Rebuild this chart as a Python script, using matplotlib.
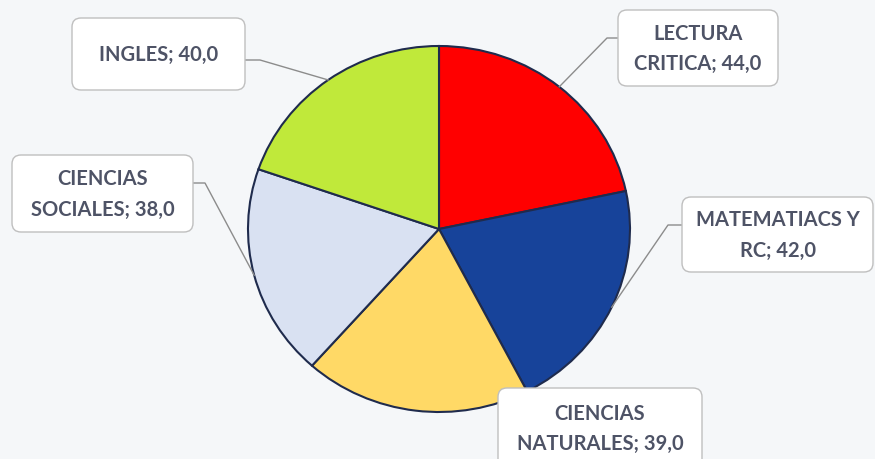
import numpy as np
import matplotlib
matplotlib.use("Agg")
import matplotlib.pyplot as plt
from matplotlib.patches import FancyBboxPatch

labels = ["LECTURA\nCRITICA; 44,0", "MATEMATIACS Y\nRC; 42,0", "CIENCIAS\nNATURALES; 39,0",
          "CIENCIAS\nSOCIALES; 38,0", "INGLES; 40,0"]
values = [44.0, 42.0, 39.0, 38.0, 40.0]
colors = ["#FF0000", "#17439A", "#FFD966", "#D9E1F2", "#C0E93A"]

W, H = 875, 459
cx, cy, rx, ry = 439, 229, 191, 183

fig = plt.figure(figsize=(W / 100, H / 100), dpi=100)
fig.patch.set_facecolor("#F5F7F9")

# pie axes: unit radius maps to rx, ry pixels
pax = fig.add_axes([0, 0, 1, 1])
pax.pie(values, colors=colors, startangle=90, counterclock=False,
        wedgeprops=dict(edgecolor="#1F2B4D", linewidth=1.5))
pax.set_aspect("auto")
pax.set_xlim(-cx / rx, (W - cx) / rx)
pax.set_ylim(-(H - cy) / ry, cy / ry)
pax.axis("off")

# overlay axes in pixel coords
ax = fig.add_axes([0, 0, 1, 1])
ax.set_xlim(0, W)
ax.set_ylim(H, 0)
ax.axis("off")
ax.patch.set_alpha(0)

total = sum(values)
angles = []
a = 90.0
for v in values:
    span = v / total * 360
    angles.append(a - span / 2)
    a -= span
edge_pts = [(cx + rx * np.cos(np.radians(t)), cy - ry * np.sin(np.radians(t))) for t in angles]

boxes = [(618, 10, 778, 86), (682, 197, 873, 272), (498, 388, 702, 470),
         (12, 155, 193, 232), (72, 18, 245, 90)]
elbows = [[(607, 38), (618, 38)], [(668, 225), (682, 225)], None,
          [(205, 183), (193, 183)], [(260, 60), (245, 60)]]

for i, lab in enumerate(labels):
    x0, y0, x1, y1 = boxes[i]
    if elbows[i] is not None:
        pts = [edge_pts[i]] + elbows[i]
        xs, ys = zip(*pts)
        ax.plot(xs, ys, color="#8C8C8C", lw=1.0, zorder=2)
    ax.add_patch(FancyBboxPatch((x0, y0), x1 - x0, y1 - y0,
                                boxstyle="round,pad=0,rounding_size=9",
                                fc="white", ec="#BFBFBF", lw=1.0, zorder=3))
    tcx = (x0 + x1) / 2
    tcy = (y0 + y1) / 2 + 1 if y1 <= H else 429
    ax.text(tcx, tcy, lab, ha="center", va="center", fontsize=14.5,
            family="Lato", weight="bold", color="#4E5366",
            linespacing=1.65, zorder=4)

fig.savefig("out.png", dpi=100, facecolor=fig.get_facecolor())
